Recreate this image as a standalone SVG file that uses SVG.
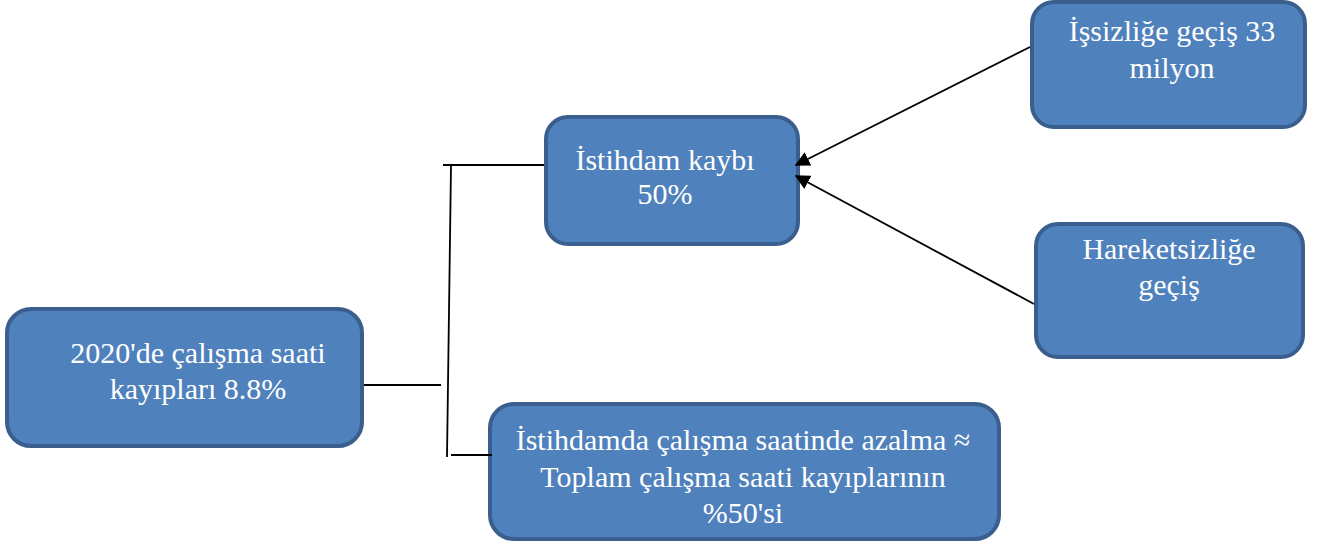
<svg xmlns="http://www.w3.org/2000/svg" width="1319" height="545" viewBox="0 0 1319 545">
<style>
.box{fill:#4F81BD;stroke:#3A5F8E;stroke-width:4}
.t{font-family:'Liberation Serif','Times New Roman','DejaVu Serif',serif;font-size:30px;fill:#FFFFFF;text-anchor:middle}
.c{stroke:#000;stroke-width:1.8;fill:none}
</style>
<defs>
<marker id="ah" viewBox="0 0 10 10" refX="9" refY="5" markerWidth="15" markerHeight="15" markerUnits="userSpaceOnUse" orient="auto">
<path d="M0,0 L10,5 L0,10 z" fill="#000"/>
</marker>
</defs>
<g id="node-total">
<rect class="box" x="7" y="309" width="355" height="137" rx="24"/>
<text class="t" x="198" y="363">2020'de çalışma saati</text>
<text class="t" x="198" y="399">kayıpları 8.8%</text>
</g>
<g id="node-employment">
<rect class="box" x="546" y="117" width="252" height="127" rx="22"/>
<text class="t" x="665" y="170">İstihdam kaybı</text>
<text class="t" x="665" y="204">50%</text>
</g>
<g id="node-unemployment">
<rect class="box" x="1032" y="2" width="273" height="125" rx="22"/>
<text class="t" x="1172" y="41">İşsizliğe geçiş 33</text>
<text class="t" x="1172" y="78">milyon</text>
</g>
<g id="node-inactivity">
<rect class="box" x="1036" y="224" width="267" height="133" rx="22"/>
<text class="t" x="1169" y="259">Hareketsizliğe</text>
<text class="t" x="1169" y="295">geçiş</text>
</g>
<g id="node-hours">
<rect class="box" x="490" y="404" width="509" height="135" rx="24"/>
<text class="t" x="743" y="450">İstihdamda çalışma saatinde azalma ≈</text>
<text class="t" x="743" y="487">Toplam çalışma saati kayıplarının</text>
<text class="t" x="743" y="523">%50'si</text>
</g>
<g id="connectors">
<line class="c" x1="364" y1="385" x2="441" y2="385"/>
<line class="c" x1="443" y1="165" x2="544" y2="165"/>
<line class="c" x1="451" y1="166" x2="447" y2="457"/>
<line class="c" x1="451" y1="455" x2="492" y2="455"/>
<line class="c" x1="1030" y1="47" x2="796" y2="165" marker-end="url(#ah)"/>
<line class="c" x1="1034" y1="304" x2="796" y2="176" marker-end="url(#ah)"/>
</g>
</svg>
